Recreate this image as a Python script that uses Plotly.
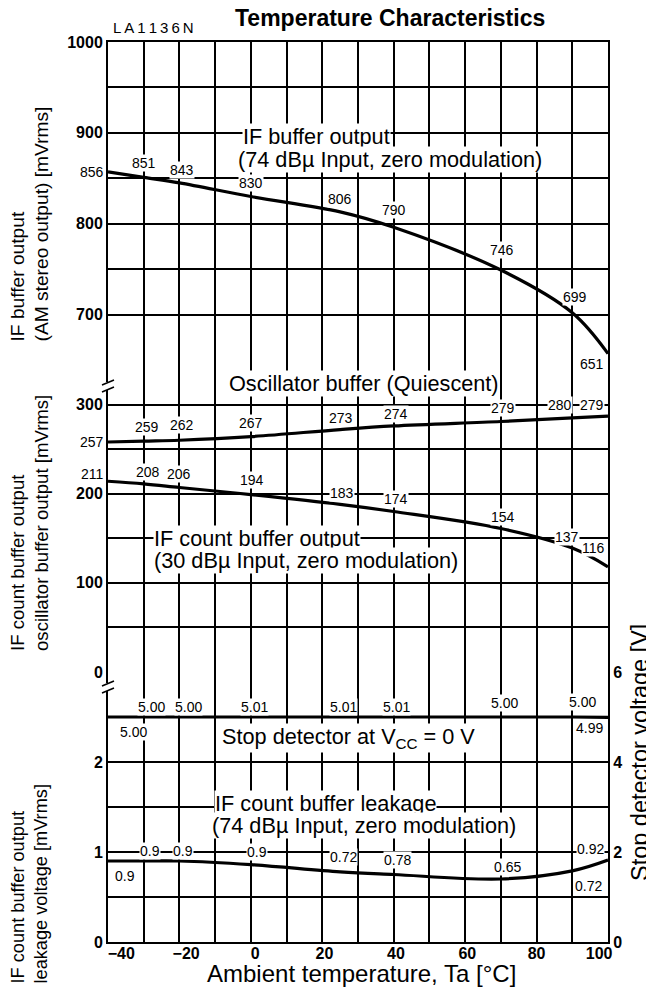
import plotly.graph_objects as go
from plotly.subplots import make_subplots

# the page puts the figure 8 px in from the top-left corner
PAGE = 8
W, H = 654 - PAGE, 994 - PAGE
L, T = 108 - PAGE, 42 - PAGE
PW, PH = 500, 900
R, B = W - L - PW, H - T - PH

# measuring temperatures [deg C]
temps = [-40, -30, -20, 0, 25, 40, 70, 90, 100]

# IF buffer output (AM stereo output) [mVrms]: curve as drawn, and the printed values
if_buf = [857, 851, 845, 830, 813, 796, 749, 702, 657]
if_buf_txt = ["856", "851", "843", "830", "806", "790", "746", "699", "651"]

# oscillator buffer output (quiescent) [mVrms]
osc_buf = [258, 259, 260, 264, 272, 276, 281, 285, 287]
osc_buf_txt = ["257", "259", "262", "267", "273", "274", "279", "280", "279"]

# IF count buffer output (30 dBu input) [mVrms]
ifc_buf = [214, 211, 207, 199, 188, 180, 161, 139, 118]
ifc_buf_txt = ["211", "208", "206", "194", "183", "174", "154", "137", "116"]

# stop detector voltage at Vcc = 0 V [V]
stop_v = [5.00, 5.00, 5.00, 5.01, 5.01, 5.01, 5.00, 5.00, 4.99]

# IF count buffer leakage (74 dBu input) [mVrms]
leak = [0.90, 0.90, 0.90, 0.86, 0.78, 0.75, 0.70, 0.79, 0.91]
leak_txt = ["0.9", "0.9", "0.9", "0.9", "0.72", "0.78", "0.65", "0.72", "0.92"]

# x tick labels every 20 degC
x_labels = [-40, -20, 0, 20, 40, 60, 80, 100]

# label offsets in px (dx, dy up), first entry "edge" = printed left of the axis
if_buf_off = [("edge", 0), (0, 14), (3, 13), (0, 13), (0, 13), (0, 17), (1, 20), (3, 16), (-16, -10)]
osc_off = [("edge", 0), (3, 14), (3, 15), (0, 14), (1, 12), (2, 12), (2, 14), (-12, 13), (-16, 11)]
ifc_off = [("edge", 7), (4, 12), (0, 13), (1, 15), (2, 11), (2, 13), (2, 11), (-5, 11), (-15, 19)]
stop_off = [(25, -15), (8, 10), (9, 10), (4, 10), (3, 10), (3, 10), (4, 14), (10, 15), (-19, -11)]
leak_off = [(17, -15), (6, 10), (4, 10), (6, 13), (3, 15), (4, 15), (7, 12), (16, -15), (-18, 11)]
# nudges of the x tick labels (number of no-break spaces before / after)
x_pad = {-40: (6, 0), -20: (3, 0), 0: (2, 0), 20: (1, 0), 40: (1, 0), 60: (1, 0), 80: (0, 0), 100: (0, 4)}

FONT = "Liberation Sans, Arial, sans-serif"
LBL = dict(family=FONT, size=14, color="black")
TICK = dict(family=FONT, size=16, color="black", weight="bold")
NB = "\u00a0"


# screen pixel -> paper fraction
def fx(p):
    return (p - PAGE - L) / PW


def fy(p):
    return (PAGE + T + PH - p) / PH


fig = make_subplots(rows=3, cols=1, shared_xaxes=True, vertical_spacing=0,
                    row_heights=[318, 312, 270],
                    specs=[[{}], [{}], [{"secondary_y": True}]])

line = dict(color="black", width=3.2, shape="spline", smoothing=1.0)
fig.add_trace(go.Scatter(x=temps, y=if_buf, mode="lines", line=line), row=1, col=1)
fig.add_trace(go.Scatter(x=temps, y=osc_buf, mode="lines", line=line), row=2, col=1)
fig.add_trace(go.Scatter(x=temps, y=ifc_buf, mode="lines", line=line), row=2, col=1)
fig.add_trace(go.Scatter(x=temps, y=leak, mode="lines", line=line), row=3, col=1)
fig.add_trace(go.Scatter(x=temps, y=stop_v, mode="lines", line=dict(color="black", width=3.2)),
              row=3, col=1, secondary_y=True)


def value_labels(vals, texts, offs, xref, yref):
    out = []
    for t, v, s, (dx, dy) in zip(temps, vals, texts, offs):
        a = dict(x=t, y=v, xref=xref, yref=yref, text=s, showarrow=False,
                 font=LBL, bgcolor="white", borderpad=0, yshift=dy)
        if dx == "edge":
            a.update(x=0, xref="paper", xanchor="right", xshift=-3, bgcolor="rgba(0,0,0,0)")
        else:
            a.update(xshift=dx)
        out.append(a)
    return out


ann = []
ann += value_labels(if_buf, if_buf_txt, if_buf_off, "x", "y")
ann += value_labels(osc_buf, osc_buf_txt, osc_off, "x2", "y2")
ann += value_labels(ifc_buf, ifc_buf_txt, ifc_off, "x2", "y2")
ann += value_labels(stop_v, [f"{v:.2f}" for v in stop_v], stop_off, "x3", "y4")
ann += value_labels(leak, leak_txt, leak_off, "x3", "y3")

# curve captions
captions = [
    ("IF buffer output", 242, 137),
    ("(74 dBµ Input, zero modulation)", 237, 160),
    ("Oscillator buffer (Quiescent)", 228, 383),
    ("IF count buffer output", 153, 538),
    ("(30 dBµ Input, zero modulation)", 153, 560),
    ("Stop detector at V<sub>CC</sub> = 0 V", 221, 738),
    ("IF count buffer leakage", 214, 803),
    ("(74 dBµ Input, zero modulation)", 211, 825),
]
for txt, px, py in captions:
    ann.append(dict(text=txt, x=fx(px), y=fy(py), xref="paper", yref="paper",
                    xanchor="left", yanchor="middle", showarrow=False,
                    font=dict(family=FONT, size=21.7, color="black"),
                    bgcolor="white", borderpad=0))

# axis titles
ytitles = [
    ("IF buffer output<br>(AM stereo output) [mVrms]", 344, 19.2),
    ("IF count buffer output<br>oscillator buffer output [mVrms]", 653, 18.6),
    ("IF count buffer output<br>leakage voltage [mVrms]", 986, 18.2),
]
for txt, bottom, size in ytitles:
    ann.append(dict(text=txt, x=fx(29), y=fy(bottom), xref="paper", yref="paper",
                    xanchor="center", yanchor="bottom", textangle=-90, align="left",
                    showarrow=False, font=dict(family=FONT, size=size, color="black")))
ann.append(dict(text="Stop detector voltage [V]", x=fx(640), y=fy(753), xref="paper", yref="paper",
                xanchor="center", yanchor="middle", textangle=-90, showarrow=False,
                font=dict(family=FONT, size=23.5, color="black")))
ann.append(dict(text="Ambient temperature, Ta [°C]", x=fx(361), y=fy(973), xref="paper", yref="paper",
                xanchor="center", yanchor="middle", showarrow=False,
                font=dict(family=FONT, size=24, color="black")))
ann.append(dict(text="<b>Temperature Characteristics</b>", x=fx(390), y=fy(18), xref="paper", yref="paper",
                xanchor="center", yanchor="middle", showarrow=False,
                font=dict(family=FONT, size=23, color="black")))
ann.append(dict(text="\u2009".join("LA1136N"), x=fx(153), y=fy(27), xref="paper", yref="paper",
                xanchor="center", yanchor="middle", showarrow=False,
                font=dict(family=FONT, size=15, color="black")))

# axis break marks on the left axis
shapes = []
for yc in (386, 687):
    shapes.append(dict(type="line", xref="paper", yref="paper", x0=fx(108), x1=fx(108),
                       y0=fy(yc - 4), y1=fy(yc + 4), line=dict(color="white", width=5)))
    for off in (-3.5, 3.5):
        shapes.append(dict(type="line", xref="paper", yref="paper",
                           x0=fx(102), y0=fy(yc + off + 2.5), x1=fx(114), y1=fy(yc + off - 2.5),
                           line=dict(color="black", width=1.5)))

xticks = list(range(-40, 101, 10))
xtext = []
for v in xticks:
    if v in x_labels:
        pre, post = x_pad[v]
        xtext.append(NB * pre + str(v).replace("-", "\u2212") + NB * post)
    else:
        xtext.append("")
for i in (1, 2, 3):
    fig.update_xaxes(row=i, col=1, range=[-40, 100], domain=[0, 1], tickvals=xticks, ticktext=xtext,
                     showticklabels=(i == 3), ticks="", showgrid=True, gridcolor="black",
                     gridwidth=1.5, zeroline=False, showline=(i != 2), mirror=False,
                     side="top" if i == 1 else "bottom",
                     linecolor="black", linewidth=2, tickfont=TICK, automargin=False,
                     ticklabelstandoff=-4)

y1t = list(range(650, 1001, 50))
fig.update_yaxes(row=1, col=1, range=[650, 1000], tickvals=y1t,
                 ticktext=[str(v) if v % 100 == 0 and v > 650 else "" for v in y1t])
y2t = list(range(0, 351, 50))
fig.update_yaxes(row=2, col=1, range=[0, 350], tickvals=y2t,
                 ticktext=[str(v) if v % 100 == 0 else "" for v in y2t])
y3t = [0, 0.5, 1, 1.5, 2, 2.5, 3]
fig.update_yaxes(row=3, col=1, secondary_y=False, range=[0, 3], tickvals=y3t,
                 ticktext=[str(int(v)) if v in (0, 1, 2) else "" for v in y3t])
fig.update_yaxes(row=3, col=1, secondary_y=True, range=[0, 6], tickvals=[0, 2, 4, 6],
                 showgrid=False, zeroline=False, showline=True, linecolor="black",
                 linewidth=2, ticks="", tickfont=TICK, automargin=False)
for i in (1, 2):
    fig.update_yaxes(row=i, col=1, showgrid=True, gridcolor="black", gridwidth=1.5,
                     zeroline=False, showline=True, mirror=True, linecolor="black",
                     linewidth=2, ticks="", tickfont=TICK, automargin=False)
fig.update_yaxes(row=3, col=1, secondary_y=False, showgrid=True, gridcolor="black",
                 gridwidth=1.5, zeroline=False, showline=True, mirror=True,
                 linecolor="black", linewidth=2, ticks="", tickfont=TICK, automargin=False)

fig.update_layout(width=W, height=H, margin=dict(l=L, r=R, t=T, b=B, autoexpand=False),
                  plot_bgcolor="white", paper_bgcolor="white", showlegend=False,
                  annotations=ann, shapes=shapes)

fig.write_html("out.html")
